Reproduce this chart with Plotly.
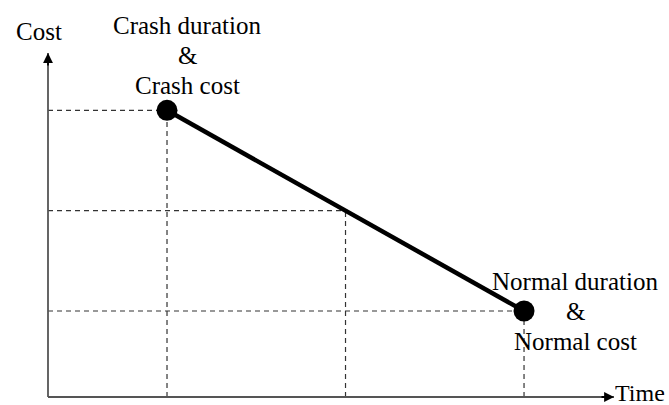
import plotly.graph_objects as go

# Data (time units, cost units)
durations = [1, 2.5, 4]      # crash duration, intermediate, normal duration
costs = [10, 6.5, 3]         # crash cost, intermediate, normal cost
x_max = 4.756
y_max = 12.0

crash_label = ["Crash duration", "&", "Crash cost"]
normal_label = ["Normal duration", "&", "Normal cost"]

FONT = "Liberation Serif, Times New Roman, serif"
FS = 25

fig = go.Figure()

# dashed guide lines
for d, c in zip(durations, costs):
    fig.add_trace(go.Scatter(x=[0, d], y=[c, c], mode="lines",
                             line=dict(color="#333", width=1.2, dash="5px,4px"),
                             hoverinfo="skip", showlegend=False))
    fig.add_trace(go.Scatter(x=[d, d], y=[0, c], mode="lines",
                             line=dict(color="#333", width=1.2, dash="5px,4px"),
                             hoverinfo="skip", showlegend=False))

# main cost-time line
fig.add_trace(go.Scatter(x=[durations[0], durations[-1]], y=[costs[0], costs[-1]],
                         mode="lines+markers",
                         line=dict(color="black", width=4.5),
                         marker=dict(color="black", size=21),
                         showlegend=False))

# axes lines
fig.add_shape(type="line", xref="paper", yref="paper", x0=0, x1=1, y0=0, y1=0,
              line=dict(color="#555", width=1.8))
fig.add_shape(type="line", xref="paper", yref="paper", x0=0, x1=0, y0=0, y1=1,
              line=dict(color="#555", width=1.8))
# arrow heads
fig.add_annotation(xref="paper", yref="paper", x=1, y=0, ax=-14, ay=0, text="",
                   showarrow=True, arrowhead=2, arrowsize=1.1, arrowwidth=1.8,
                   arrowcolor="black")
fig.add_annotation(xref="paper", yref="paper", x=0, y=1, ax=0, ay=14, text="",
                   showarrow=True, arrowhead=2, arrowsize=1.1, arrowwidth=1.8,
                   arrowcolor="black")

W, H = 669, 405
L, R, T, B = 48, 55, 53, 8
pw, ph = W - L - R, H - T - B

def px2paper(px, py):
    return (px - L) / pw, (H - B - py) / ph

def label(text, px, py, xanchor="center", size=FS, **kw):
    xp, yp = px2paper(px, py)
    fig.add_annotation(xref="paper", yref="paper", x=xp, y=yp, text=text,
                       showarrow=False, xanchor=xanchor, yanchor="middle",
                       font=dict(family=FONT, size=size, color="black"), **kw)

for i, t in enumerate(crash_label):
    label(t, 187, 25 + 30 * i)
for i, t in enumerate(normal_label):
    label(t, 575, 281 + 30 * i)
label("Cost", 39, 31)
label("Time", 614, 393, xanchor="left", size=24, height=20, borderpad=0)

fig.update_xaxes(range=[0, x_max], visible=False)
fig.update_yaxes(range=[0, y_max], visible=False)
fig.update_layout(width=W, height=H, margin=dict(l=L, r=R, t=T, b=B),
                  plot_bgcolor="white", paper_bgcolor="white")

fig.write_html("out.html", config={"displayModeBar": False},
               post_script="document.body.style.margin='0';document.body.style.overflow='hidden';")
